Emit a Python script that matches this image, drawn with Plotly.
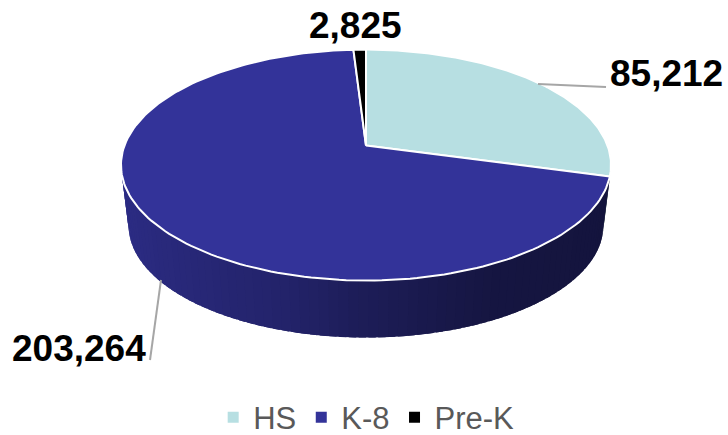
import numpy as np
import plotly.graph_objects as go

categories = ["HS", "K-8", "Pre-K"]
values = [85212, 203264, 2825]
colors = ["#B7DFE2", "#333399", "#000000"]

W, H = 728, 435
CX = 366
PERSP = 0.169
TOP_A, TOP_AY, TOP_B = 241.5, -87.6, 145.5
BOT_A, BOT_AY, BOT_B = 234.0, -74.0, 206.5
SHADE_U = [-1.0, -0.9, -0.27, 0.0, 0.47, 1.0]
SHADE_F = [0.87, 0.85, 0.70, 0.58, 0.43, 0.40]


def rim(t_deg, a, ay, b):
    t = np.radians(t_deg)
    u, v = np.sin(t), np.cos(t)
    den = 1 + PERSP * v
    return CX + a * u / den, (ay * v + b) / den


def shade(hex_color, f):
    rgb = [int(hex_color[i:i + 2], 16) for i in (1, 3, 5)]
    return "rgb({},{},{})".format(*[int(c * f) for c in rgb])


fig = go.Figure()
total = sum(values)
edges = np.concatenate([[0], np.cumsum(values) / total * 360])

# side wall: overlapping strips so no seams show between them
for i, col in enumerate(colors):
    lo, hi = max(edges[i], 80), min(edges[i + 1], 280)
    if hi <= lo:
        continue
    steps = np.arange(hi, lo, -2.0).tolist() + [lo]
    for b, a in zip(steps[:-1], steps[1:]):
        ts = np.linspace(a, min(b + 1.5, hi), 4)
        x1, y1 = rim(ts, TOP_A, TOP_AY, TOP_B)
        x2, y2 = rim(ts[::-1], BOT_A, BOT_AY, BOT_B)
        f = np.interp(np.sin(np.radians((a + b) / 2)), SHADE_U, SHADE_F)
        fig.add_trace(go.Scatter(
            x=np.r_[x1, x2, x1[0]], y=np.r_[y1, y2, y1[0]], mode="none",
            fill="toself", fillcolor=shade(col, f),
            hoverinfo="skip", showlegend=False))

# top faces
for i, col in enumerate(colors):
    ts = np.linspace(edges[i], edges[i + 1], 180)
    x, y = rim(ts, TOP_A, TOP_AY, TOP_B)
    fig.add_trace(go.Scatter(
        x=np.r_[CX, x, CX], y=np.r_[TOP_B, y, TOP_B], mode="lines",
        fill="toself", fillcolor=col, line=dict(color="white", width=2),
        name=categories[i], hoverinfo="skip", showlegend=False))

# leader lines
leaders = [([538, 606], [84, 87]), ([161, 150], [280, 360])]
for lx, ly in leaders:
    fig.add_trace(go.Scatter(x=lx, y=ly, mode="lines",
                             line=dict(color="#A6A6A6", width=2),
                             hoverinfo="skip", showlegend=False))

# legend entries
for c, col in zip(categories, colors):
    fig.add_trace(go.Scatter(x=[None], y=[None], mode="markers", name=c,
                             marker=dict(symbol="square", size=11, color=col)))

label_pos = [(666, 73), (79, 348), (355, 25)]
for v, (lx, ly) in zip(values, label_pos):
    fig.add_annotation(x=lx, y=ly, text=f"<b>{v:,}</b>", showarrow=False,
                       font=dict(family="Liberation Sans", size=37, color="black"))

fig.update_layout(
    width=W, height=H, margin=dict(l=0, r=0, t=0, b=0, autoexpand=False),
    paper_bgcolor="white", plot_bgcolor="white",
    xaxis=dict(range=[0, W], visible=False, fixedrange=True),
    yaxis=dict(range=[H, 0], visible=False, fixedrange=True),
    legend=dict(orientation="h", x=0.503, xanchor="center", y=-0.022, yanchor="bottom",
                font=dict(family="Liberation Sans", size=31, color="#595959"),
                itemwidth=30, tracegroupgap=0),
)
fig.write_html("out.html", config=dict(displayModeBar=False),
               post_script="document.body.style.margin='0';")
